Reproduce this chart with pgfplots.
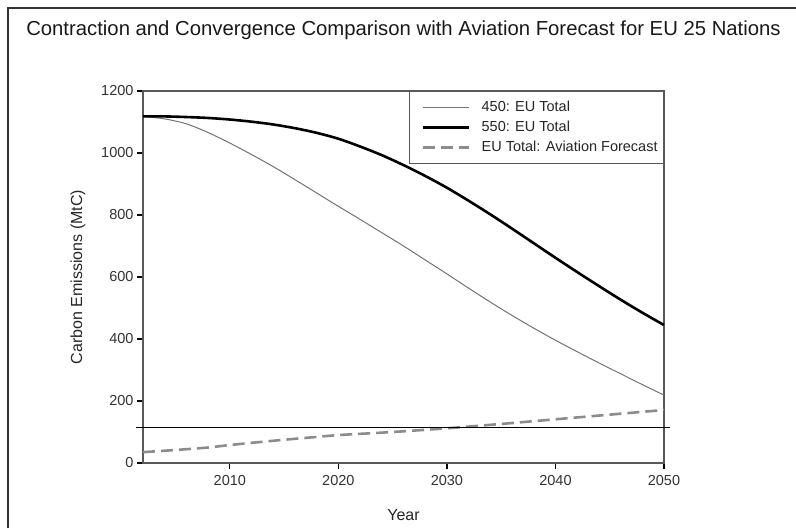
\documentclass[border=0pt]{standalone}
\usepackage{pgfplots}
\pgfplotsset{compat=1.18}
\usepackage{fontspec}
\setmainfont{Liberation Sans}
\definecolor{thingray}{gray}{0.45}
\definecolor{dashgray}{gray}{0.55}
\definecolor{boxgray}{gray}{0.35}
\pgfplotstableread{
year v
2002 1118
2004 1110
2006 1094
2008 1066
2010 1032
2012 995
2014 956
2016 914
2018 871
2020 828
2022 786
2024 743
2026 700
2028 655
2030 610
2032 564
2034 519
2036 476
2038 435
2040 396
2042 359
2044 323
2046 288
2048 253
2050 219
}\tblA
\pgfplotstableread{
year v
2002 1118
2004 1118
2006 1116
2008 1113
2010 1108
2012 1101
2014 1092
2016 1080
2018 1065
2020 1046
2022 1021
2024 993
2026 961
2028 926
2030 888
2032 846
2034 802
2036 756
2038 709
2040 662
2042 616
2044 571
2046 527
2048 485
2050 445
}\tblB
\pgfplotstableread{
year v
2002 35
2005 42
2008 50
2010 58
2012 65
2015 75
2018 84
2020 90
2025 100
2030 112
2035 126
2040 141
2045 156
2050 171
}\tblC
\begin{document}
\begin{tikzpicture}[x=1pt,y=1pt]
\useasboundingbox (0,0) rectangle (796,528);
\draw[line width=1.5pt, black!80] (8,0) -- (8,520) -- (796,520);
\node[font=\fontsize{20.3}{24}\selectfont, anchor=center, text=black!90] at (403.5,498) {Contraction and Convergence Comparison with Aviation Forecast for EU 25 Nations};
\begin{axis}[
  at={(143pt,65pt)}, anchor=south west,
  scale only axis, width=521pt, height=372pt,
  xmin=2002, xmax=2050, ymin=0, ymax=1200,
  xtick={2010,2020,2030,2040,2050},
  ytick={0,200,400,600,800,1000,1200},
  tick align=outside, xtick pos=bottom, ytick pos=left,
  major tick length=6pt,
  axis line style={boxgray, line width=1.2pt},
  every tick/.style={black, line width=1.2pt},
  /pgf/number format/1000 sep={},
  /pgf/number format/assume math mode=true,
  tick label style={font=\fontsize{14.5}{17}\selectfont, text=black!80},
  xticklabel style={yshift=-3pt},
  xlabel={Year}, ylabel={Carbon Emissions (MtC)},
  every axis x label/.style={at={(axis description cs:0.5,-0.1398)}, anchor=center, font=\fontsize{16}{19}\selectfont, text=black!85},
  every axis y label/.style={at={(axis description cs:-0.1248,0.5)}, anchor=center, rotate=90, font=\fontsize{16}{19}\selectfont, text=black!85},
  clip=false,
  legend cell align=left,
  legend style={at={(axis description cs:1,1)}, anchor=north east,
    draw=boxgray, line width=0.8pt, fill=white,
    font=\fontsize{14.5}{17}\selectfont, text=black!85,
    inner xsep=4pt, inner ysep=8pt, row sep=4pt},
  legend image code/.code={\draw[draw=none] (-9pt,0pt) -- (57pt,0pt); \draw[#1] (0pt,0pt) -- (46pt,0pt);},
]
\addplot[thingray, line width=1pt, smooth] table[x=year,y=v]{\tblA};
\addlegendentry{450: EU Total}
\addplot[black, line width=2.6pt, smooth] table[x=year,y=v]{\tblB};
\addlegendentry{550: EU Total}
\addplot[dashgray, line width=2.6pt, dash pattern=on 12pt off 6pt, smooth] table[x=year,y=v]{\tblC};
\addlegendentry{EU Total: Aviation Forecast}
\addplot[black, line width=1.2pt, forget plot] coordinates {(2001.35,115) (2050.55,115)};
\end{axis}
\end{tikzpicture}
\end{document}
